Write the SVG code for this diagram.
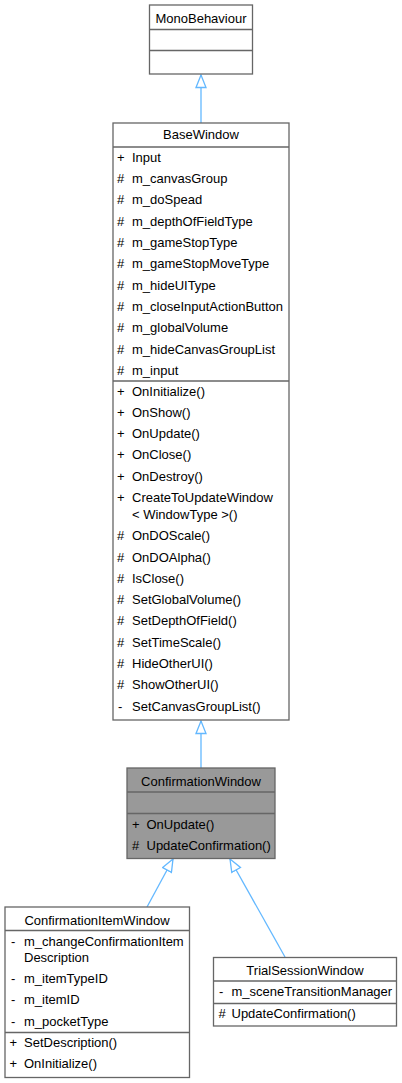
<svg xmlns="http://www.w3.org/2000/svg" width="402" height="1083" viewBox="0 0 402 1083">
<defs>
<style>
.box{fill:#ffffff;stroke:#666666;stroke-width:1.3}
.gbox{fill:#999999;stroke:#666666;stroke-width:1.3}
.sep{stroke:#666666;stroke-width:1.3}
text{font-family:"Liberation Sans",Arial,sans-serif;font-size:13px;fill:#000000}
.t{text-anchor:middle}
.edge{stroke:#63b8ff;stroke-width:1.3;fill:none}
</style>
<marker id="inh" markerUnits="userSpaceOnUse" markerWidth="16" markerHeight="12" refX="13.5" refY="6" orient="auto" viewBox="0 0 16 12">
<path d="M1,1 L13.5,6 L1,11 Z" fill="#ffffff" stroke="#63b8ff" stroke-width="1.3"/>
</marker>
</defs>
<rect width="402" height="1083" fill="#ffffff"/>

<g id="connectors">
<line class="edge" x1="201" y1="123" x2="201" y2="75" marker-end="url(#inh)"/>
<line class="edge" x1="201" y1="768" x2="201" y2="721" marker-end="url(#inh)"/>
<line class="edge" x1="147" y1="907" x2="173" y2="859" marker-end="url(#inh)"/>
<line class="edge" x1="285" y1="957" x2="230" y2="859" marker-end="url(#inh)"/>
</g>

<g id="MonoBehaviour">
<rect class="box" x="149.5" y="5" width="103" height="69"/>
<text class="t" x="201" y="22.5">MonoBehaviour</text>
<line class="sep" x1="149.5" y1="29.5" x2="252.5" y2="29.5"/>
<line class="sep" x1="149.5" y1="50.5" x2="252.5" y2="50.5"/>
</g>

<g id="BaseWindow">
<rect class="box" x="113" y="123" width="176" height="597"/>
<text class="t" x="201" y="139">BaseWindow</text>
<line class="sep" x1="113" y1="147" x2="289" y2="147"/>
<text x="117" y="162">+</text><text x="132" y="162">Input</text>
<text x="117" y="183">#</text><text x="132" y="183">m_canvasGroup</text>
<text x="117" y="204">#</text><text x="132" y="204">m_doSpead</text>
<text x="117" y="225.5">#</text><text x="132" y="225.5">m_depthOfFieldType</text>
<text x="117" y="247">#</text><text x="132" y="247">m_gameStopType</text>
<text x="117" y="268">#</text><text x="132" y="268">m_gameStopMoveType</text>
<text x="117" y="289.5">#</text><text x="132" y="289.5">m_hideUIType</text>
<text x="117" y="310.5">#</text><text x="132" y="310.5">m_closeInputActionButton</text>
<text x="117" y="332">#</text><text x="132" y="332">m_globalVolume</text>
<text x="117" y="353.5">#</text><text x="132" y="353.5">m_hideCanvasGroupList</text>
<text x="117" y="374.5">#</text><text x="132" y="374.5">m_input</text>
<line class="sep" x1="113" y1="381" x2="289" y2="381"/>
<text x="117" y="395.5">+</text><text x="132" y="395.5">OnInitialize()</text>
<text x="117" y="416.5">+</text><text x="132" y="416.5">OnShow()</text>
<text x="117" y="438">+</text><text x="132" y="438">OnUpdate()</text>
<text x="117" y="459">+</text><text x="132" y="459">OnClose()</text>
<text x="117" y="480.5">+</text><text x="132" y="480.5">OnDestroy()</text>
<text x="117" y="502">+</text><text x="132" y="502">CreateToUpdateWindow</text>
<text x="132" y="518.5">&lt; WindowType &gt;()</text>
<text x="117" y="540">#</text><text x="132" y="540">OnDOScale()</text>
<text x="117" y="561.5">#</text><text x="132" y="561.5">OnDOAlpha()</text>
<text x="117" y="582.5">#</text><text x="132" y="582.5">IsClose()</text>
<text x="117" y="604">#</text><text x="132" y="604">SetGlobalVolume()</text>
<text x="117" y="625">#</text><text x="132" y="625">SetDepthOfField()</text>
<text x="117" y="646.5">#</text><text x="132" y="646.5">SetTimeScale()</text>
<text x="117" y="668">#</text><text x="132" y="668">HideOtherUI()</text>
<text x="117" y="689">#</text><text x="132" y="689">ShowOtherUI()</text>
<text x="118" y="710.5">-</text><text x="132" y="710.5">SetCanvasGroupList()</text>
</g>

<g id="ConfirmationWindow">
<rect class="gbox" x="127" y="768" width="148" height="90.5"/>
<text class="t" x="201" y="786">ConfirmationWindow</text>
<line class="sep" x1="127" y1="792" x2="275" y2="792"/>
<line class="sep" x1="127" y1="813.5" x2="275" y2="813.5"/>
<text x="132" y="828.5">+</text><text x="146.5" y="828.5">OnUpdate()</text>
<text x="132" y="850">#</text><text x="146.5" y="850">UpdateConfirmation()</text>
</g>

<g id="ConfirmationItemWindow">
<rect class="box" x="5" y="907" width="184.5" height="170.5"/>
<text class="t" x="97" y="924.5">ConfirmationItemWindow</text>
<line class="sep" x1="5" y1="930.5" x2="189.5" y2="930.5"/>
<text x="11" y="946">-</text><text x="24" y="946">m_changeConfirmationItem</text>
<text x="24" y="962">Description</text>
<text x="11" y="982.5">-</text><text x="24" y="982.5">m_itemTypeID</text>
<text x="11" y="1003.5">-</text><text x="24" y="1003.5">m_itemID</text>
<text x="11" y="1026">-</text><text x="24" y="1026">m_pocketType</text>
<line class="sep" x1="5" y1="1032.5" x2="189.5" y2="1032.5"/>
<text x="9.5" y="1047">+</text><text x="24" y="1047">SetDescription()</text>
<text x="9.5" y="1067.5">+</text><text x="24" y="1067.5">OnInitialize()</text>
</g>

<g id="TrialSessionWindow">
<rect class="box" x="213.5" y="957.5" width="183" height="68.5"/>
<text class="t" x="305" y="974.5">TrialSessionWindow</text>
<line class="sep" x1="213.5" y1="981" x2="396.5" y2="981"/>
<text x="219" y="996">-</text><text x="231.5" y="996">m_sceneTransitionManager</text>
<line class="sep" x1="213.5" y1="1003.5" x2="396.5" y2="1003.5"/>
<text x="218.5" y="1018">#</text><text x="231.5" y="1018">UpdateConfirmation()</text>
</g>
</svg>
